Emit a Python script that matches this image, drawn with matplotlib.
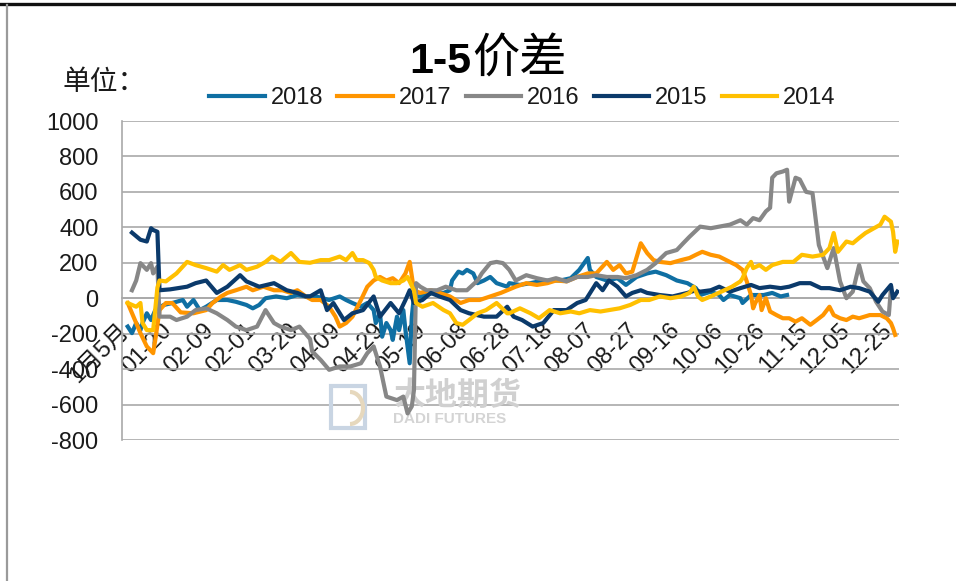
import matplotlib
matplotlib.use('Agg')
import matplotlib.pyplot as plt
from matplotlib.lines import Line2D
from matplotlib.patches import Rectangle, Arc

plt.rcParams['font.family'] = ['Liberation Sans', 'Noto Sans CJK SC', 'DejaVu Sans']
plt.rcParams['axes.unicode_minus'] = False

# day of year for each point, values of the 1-5 spread
d18 = [1, 3, 5, 7, 8, 10, 12, 14, 18, 22, 27, 29, 32, 35, 38, 43, 48, 52, 57, 60,
       63, 66, 71, 76, 81, 85, 90, 96, 101, 104, 107, 111, 114, 117, 118, 120, 121, 123, 125, 126,
       128, 129, 131, 132, 134, 135, 136, 139, 145, 150, 153, 154, 157, 159, 161, 164, 166, 169, 172, 175,
       180, 181, 186, 191, 195, 200, 205, 210, 214, 218, 219, 222, 227, 232, 236, 241, 246, 250, 255, 260,
       265, 269, 271, 276, 280, 282, 285, 290, 291, 295, 298, 301, 305, 309, 312]
v18 = [-160, -197, -140, -180, -140, -85, -123, -67, -38, -27, -10, -48, -10, -67, -48, -10, -10, -20, -38, -57,
       -38, 0, 10, 0, 18, 10, 10, -10, 10, -10, -27, -48, -27, -67, -140, -85, -217, -140, -180, -235,
       -104, -180, -67, -180, -367, -104, 10, 10, 30, 30, 45, 100, 150, 140, 160, 140, 85, 100, 120, 85,
       65, 85, 75, 85, 95, 100, 100, 113, 160, 227, 160, 120, 100, 113, 75, 120, 140, 150, 130, 100,
       85, 57, 18, 37, 18, -10, 18, 0, -27, 18, 18, 18, 30, 10, 18]

d17 = [1, 7, 10, 13, 14, 16, 19, 22, 26, 32, 38, 41, 45, 48, 52, 57, 60, 65, 70, 74,
       78, 81, 85, 88, 92, 96, 99, 101, 104, 107, 111, 114, 117, 120, 123, 126, 129, 132, 134, 136,
       139, 144, 148, 153, 158, 162, 167, 172, 177, 180, 184, 189, 194, 199, 203, 208, 213, 218, 222, 227,
       230, 233, 236, 239, 243, 246, 249, 252, 257, 262, 266, 269, 272, 276, 280, 285, 288, 291, 293, 295,
       296, 297, 299, 300, 302, 304, 307, 310, 313, 316, 319, 323, 326, 329, 332, 334, 337, 340, 343, 346,
       351, 356, 359, 361, 362, 363]
v17 = [-27, -197, -272, -310, -235, -67, -27, -27, -80, -85, -67, -27, 10, 30, 45, 65, 45, 65, 45, 45,
       30, 45, 10, -10, -10, -48, -104, -160, -140, -104, -10, 65, 100, 120, 100, 113, 85, 140, 205, 45,
       30, 45, 30, 10, -27, -10, -10, 10, 30, 45, 65, 85, 75, 85, 100, 95, 120, 140, 140, 205,
       160, 187, 140, 150, 310, 255, 215, 205, 198, 215, 227, 245, 262, 245, 235, 205, 187, 160, 95, 18,
       -57, -27, 18, -67, 0, -75, -95, -113, -113, -132, -113, -150, -123, -95, -48, -95, -113, -123, -104, -113,
       -95, -95, -113, -140, -170, -207]

d16 = [3, 5, 7, 10, 12, 13, 15, 16, 21, 24, 29, 33, 38, 43, 48, 52, 57, 62, 66, 70,
       73, 78, 82, 87, 88, 92, 96, 101, 106, 111, 114, 117, 120, 123, 128, 131, 133, 135, 136, 137,
       139, 142, 147, 151, 156, 161, 166, 168, 172, 175, 178, 181, 184, 189, 194, 199, 203, 208, 213, 218,
       222, 227, 232, 236, 241, 246, 250, 255, 260, 263, 266, 271, 276, 280, 285, 290, 293, 296, 299, 302,
       304, 305, 307, 310, 312, 313, 316, 318, 321, 324, 327, 331, 334, 337, 340, 343, 346, 348, 351, 354,
       357, 360, 361]
v16 = [45, 100, 198, 160, 198, 140, 178, -104, -104, -123, -104, -67, -57, -85, -123, -160, -180, -160, -67, -140,
       -160, -180, -160, -230, -300, -348, -404, -385, -385, -367, -310, -272, -385, -555, -575, -555, -650, -610, -520, 85,
       65, 45, 45, 65, 45, 45, 100, 140, 198, 205, 198, 160, 100, 130, 113, 100, 113, 95, 120, 120,
       130, 120, 120, 113, 130, 160, 198, 255, 272, 310, 347, 404, 395, 404, 415, 440, 415, 452, 440, 490,
       510, 680, 705, 715, 725, 545, 680, 670, 600, 593, 300, 170, 283, 95, 0, 37, 187, 95, 57, -20,
       -75, -95, 57]

d15 = [3, 7, 10, 12, 13, 15, 16, 21, 29, 33, 38, 43, 48, 54, 57, 63, 70, 76, 81, 85,
       87, 92, 95, 98, 103, 107, 112, 117, 120, 125, 129, 132, 134, 136, 140, 144, 148, 153, 158, 162,
       169, 175, 180, 183, 187, 192, 197, 202, 208, 213, 217, 222, 225, 228, 232, 236, 239, 243, 246, 252,
       258, 265, 269, 271, 276, 280, 285, 290, 295, 299, 304, 309, 313, 318, 323, 328, 332, 337, 342, 346,
       351, 355, 357, 361, 362, 364]
v15 = [370, 330, 320, 395, 385, 375, 45, 50, 65, 85, 100, 30, 65, 130, 95, 65, 85, 45, 30, 10,
       10, 45, -67, -27, -123, -85, -67, 10, -104, -27, -85, -10, 45, -27, -10, 30, 10, -10, -67, -85,
       -104, -104, -48, -104, -123, -160, -140, -67, -67, -27, -10, 85, 45, 100, 65, 10, 30, 45, 30, 18,
       10, 30, 45, 37, 45, 65, 37, 57, 75, 57, 65, 57, 65, 85, 85, 57, 57, 45, 65, 57,
       37, -20, 18, 75, 0, 37]

d14 = [1, 5, 7, 8, 10, 13, 14, 15, 16, 19, 24, 29, 33, 38, 43, 46, 49, 54, 57, 62,
       66, 69, 73, 78, 82, 87, 92, 96, 101, 104, 107, 109, 112, 115, 117, 118, 121, 125, 128, 131,
       133, 136, 137, 140, 145, 150, 153, 156, 159, 162, 166, 170, 175, 180, 181, 186, 191, 195, 200, 205,
       210, 214, 219, 224, 228, 233, 238, 243, 247, 252, 257, 262, 266, 268, 270, 272, 276, 281, 286, 290,
       291, 293, 295, 296, 299, 302, 305, 310, 315, 319, 324, 329, 332, 334, 336, 340, 343, 346, 349, 353,
       356, 358, 361, 362, 363, 364]
v14 = [-27, -48, -27, -140, -180, -180, -60, 60, 100, 95, 140, 205, 187, 170, 150, 187, 160, 187, 160, 178,
       205, 235, 205, 255, 205, 200, 215, 215, 235, 215, 255, 215, 215, 198, 160, 120, 100, 85, 85, 100,
       120, 45, -27, -48, -27, -67, -85, -140, -150, -123, -85, -67, -27, -85, -85, -57, -85, -113, -67, -85,
       -75, -85, -67, -75, -67, -57, -38, -10, -10, 10, 0, 10, 30, 65, 10, -10, 10, 37, 65, 95,
       113, 170, 205, 170, 187, 160, 187, 205, 205, 245, 235, 245, 283, 368, 262, 320, 310, 340, 368, 395,
       415, 460, 432, 375, 262, 320]

tick_days = [0, 20, 40, 60, 80, 100, 120, 140, 160, 180, 200, 220, 240, 260, 280, 300, 320, 340, 360]
tick_labels = ['1月5月', '01-20', '02-09', '02-01', '03-20', '04-09', '04-29', '05-19', '06-08', '06-28',
               '07-18', '08-07', '08-27', '09-16', '10-06', '10-26', '11-15', '12-05', '12-25']

series = [
    ('2018', d18, v18, '#0f6fa3'),
    ('2017', d17, v17, '#ff9500'),
    ('2016', d16, v16, '#878787'),
    ('2015', d15, v15, '#0b3a6b'),
    ('2014', d14, v14, '#ffc000'),
]

W, H = 956, 581
fig = plt.figure(figsize=(W / 100, H / 100), dpi=100)
ax = fig.add_axes([122 / W, 1 - 440 / H, 777 / W, 319 / H])

for name, xs, ys, col in series:
    ax.plot(xs, ys, color=col, lw=3.0, label=name, solid_joinstyle='round', zorder=3)

ax.set_xlim(-1.7, 364.8)
ax.set_ylim(-800, 1000)
ax.set_yticks(range(-800, 1001, 200))
ax.yaxis.grid(True, color='#a9a9a9', lw=1.2)
ax.set_axisbelow(True)

for s in ['top', 'right']:
    ax.spines[s].set_visible(False)
ax.spines['left'].set_color('#a9a9a9')
ax.spines['left'].set_linewidth(1.2)
ax.spines['bottom'].set_position(('data', 0))
ax.spines['bottom'].set_color('#a9a9a9')
ax.spines['bottom'].set_linewidth(1.2)

ax.set_xticks(tick_days, tick_labels, rotation=45, ha='right', va='center', rotation_mode='anchor')
ax.tick_params(axis='x', length=0, pad=21, labelsize=17, labelcolor='#1a1a1a')
ax.tick_params(axis='y', length=0, pad=17, labelsize=17, labelcolor='#1a1a1a')

ax.legend(loc='center', bbox_to_anchor=(522.5 / W, 1 - 98 / H), bbox_transform=fig.transFigure,
          ncol=5, frameon=False, fontsize=17, handlelength=2.35, handletextpad=0.25,
          columnspacing=0.6, borderpad=0, labelcolor='#1a1a1a')

# title and unit
fig.text(471 / W, 1 - 73 / H, '1-5', ha='right', va='baseline', fontsize=31, weight='bold')
fig.text(472 / W, 1 - 73 / H, '价差', ha='left', va='baseline', fontsize=34,
         family=['Noto Sans CJK SC'])
fig.text(62 / W, 1 - 82 / H, '单位：', ha='left', va='center', fontsize=20,
         family=['Noto Sans CJK SC'], color='#1a1a1a')

# watermark
tf = fig.transFigure
ax.add_patch(Rectangle((331 / W, 1 - 428 / H), 34 / W, 42 / H, transform=tf, fill=False,
                       ec='#c9d5e3', lw=3, zorder=1, clip_on=False))
ax.add_patch(Arc((350 / W, 1 - 408 / H), 26 / W, 32 / H, transform=tf, theta1=-90, theta2=90,
                 ec='#e6d8bd', lw=3, zorder=1, clip_on=False))
ax.text(394 / W, 1 - 396 / H, '大地期货', transform=tf, fontsize=23, weight='bold', color='#d0d0d0',
        ha='left', va='center', family=['Noto Sans CJK SC'], zorder=1)
ax.text(393 / W, 1 - 419 / H, 'DADI FUTURES', transform=tf, fontsize=11, weight='bold',
        color='#d4d4d4', ha='left', va='center', zorder=1)

# frame lines of the picture
fig.add_artist(Line2D([0, 1], [1 - 3.5 / H, 1 - 3.5 / H], transform=tf, color='#111111', lw=2.4))
fig.add_artist(Line2D([6.5 / W, 6.5 / W], [0, 1 - 5 / H], transform=tf, color='#9a9a9a', lw=1.6))

fig.savefig('out.png', dpi=100)
